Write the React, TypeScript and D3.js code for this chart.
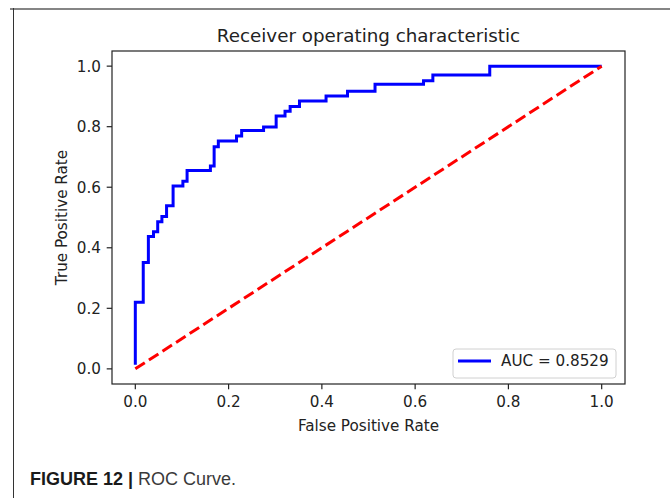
import * as d3 from 'd3';

// ROC curve corner points
const fpr = [
  0, 0, 0.017, 0.017, 0.028, 0.028, 0.039, 0.039, 0.048, 0.048, 0.057, 0.057,
  0.067, 0.067, 0.081, 0.081, 0.102, 0.102, 0.111, 0.111, 0.161, 0.161, 0.169,
  0.169, 0.178, 0.178, 0.217, 0.217, 0.228, 0.228, 0.275, 0.275, 0.302, 0.302,
  0.321, 0.321, 0.332, 0.332, 0.352, 0.352, 0.409, 0.409, 0.455, 0.455, 0.514,
  0.514, 0.618, 0.618, 0.638, 0.638, 0.76, 0.76, 1.0,
];
const tpr = [
  0.014, 0.22, 0.22, 0.351, 0.351, 0.437, 0.437, 0.453, 0.453, 0.486, 0.486,
  0.503, 0.503, 0.539, 0.539, 0.604, 0.604, 0.62, 0.62, 0.655, 0.655, 0.67,
  0.67, 0.734, 0.734, 0.753, 0.753, 0.769, 0.769, 0.787, 0.787, 0.799, 0.799,
  0.835, 0.835, 0.851, 0.851, 0.867, 0.867, 0.885, 0.885, 0.901, 0.901, 0.917,
  0.917, 0.94, 0.94, 0.952, 0.952, 0.971, 0.971, 1.0, 1.0,
];
const chance = [0, 1];
const ticks = [0, 0.2, 0.4, 0.6, 0.8, 1.0];
const aucLabel = 'AUC = 0.8529';
const title = 'Receiver operating characteristic';
const xLabel = 'False Positive Rate';
const yLabel = 'True Positive Rate';

const W = 670;
const H = 498;
const plot = { left: 112, right: 625, top: 51, bottom: 384 };
const mpl = 'DejaVu Sans, sans-serif';
const ink = '#222';

export default function App() {
  const x = d3.scaleLinear().domain([-0.05, 1.05]).range([plot.left, plot.right]);
  const y = d3.scaleLinear().domain([-0.05, 1.05]).range([plot.bottom, plot.top]);

  const roc = fpr.map((f, i) => ({ f, t: tpr[i] }));
  const line = d3
    .line<{ f: number; t: number }>()
    .x((d) => x(d.f))
    .y((d) => y(d.t));
  const diag = chance.map((v) => ({ f: v, t: v }));

  const cx = (plot.left + plot.right) / 2;
  const cy = (plot.top + plot.bottom) / 2;

  return (
    <svg
      width={W}
      height={H}
      style={{ position: 'absolute', left: 0, top: 0, background: '#fff' }}
    >
      {/* page frame */}
      <line x1={10} x2={W} y1={9} y2={9} stroke="#858585" strokeWidth={2} />
      <line x1={13.5} x2={13.5} y1={8} y2={H} stroke="#333" strokeWidth={1} />

      <text x={cx} y={42} textAnchor="middle" fontFamily={mpl} fontSize={18.3} fill={ink}>
        {title}
      </text>

      {/* curves, clipped to axes */}
      <defs>
        <clipPath id="ax">
          <rect x={plot.left} y={plot.top} width={plot.right - plot.left} height={plot.bottom - plot.top} />
        </clipPath>
      </defs>
      <g clipPath="url(#ax)">
        <path d={line(roc) ?? undefined} fill="none" stroke="#0000ff" strokeWidth={3} strokeLinejoin="miter" />
        <path
          d={line(diag) ?? undefined}
          fill="none"
          stroke="#ff0000"
          strokeWidth={3}
          strokeDasharray="11.3 4.9"
        />
      </g>

      {/* spines */}
      <rect
        x={plot.left}
        y={plot.top}
        width={plot.right - plot.left}
        height={plot.bottom - plot.top}
        fill="none"
        stroke={ink}
        strokeWidth={1.2}
      />

      {/* x ticks */}
      {ticks.map((t) => (
        <g key={`x-${t}`}>
          <line x1={x(t)} x2={x(t)} y1={plot.bottom} y2={plot.bottom + 5.3} stroke={ink} strokeWidth={1.2} />
          <text x={x(t)} y={407} textAnchor="middle" fontFamily={mpl} fontSize={15.2} fill={ink}>
            {t.toFixed(1)}
          </text>
        </g>
      ))}
      {/* y ticks */}
      {ticks.map((t) => (
        <g key={`y-${t}`}>
          <line x1={plot.left - 5.3} x2={plot.left} y1={y(t)} y2={y(t)} stroke={ink} strokeWidth={1.2} />
          <text
            x={101}
            y={y(t)}
            dy="0.36em"
            textAnchor="end"
            fontFamily={mpl}
            fontSize={15.2}
            fill={ink}
          >
            {t.toFixed(1)}
          </text>
        </g>
      ))}

      <text x={cx} y={431} textAnchor="middle" fontFamily={mpl} fontSize={15.2} fill={ink}>
        {xLabel}
      </text>
      <text
        transform={`translate(67, ${cy}) rotate(-90)`}
        textAnchor="middle"
        fontFamily={mpl}
        fontSize={15.2}
        fill={ink}
      >
        {yLabel}
      </text>

      {/* legend */}
      <rect x={453} y={349} width={163} height={29} rx={3} fill="#fff" fillOpacity={0.8} stroke="#d0d0d0" />
      <line x1={458} x2={491} y1={361} y2={361} stroke="#0000ff" strokeWidth={3} />
      <text x={501} y={361} dy="0.36em" fontFamily={mpl} fontSize={15.2} fill={ink}>
        {aucLabel}
      </text>

      {/* caption */}
      <text x={30} y={485} fontFamily="Liberation Sans, Arial, sans-serif" fontSize={18} fill="#1a1a1a">
        <tspan fontWeight={700}>FIGURE 12 | </tspan>
        <tspan fill="#3a3a3a">ROC Curve.</tspan>
      </text>
    </svg>
  );
}
